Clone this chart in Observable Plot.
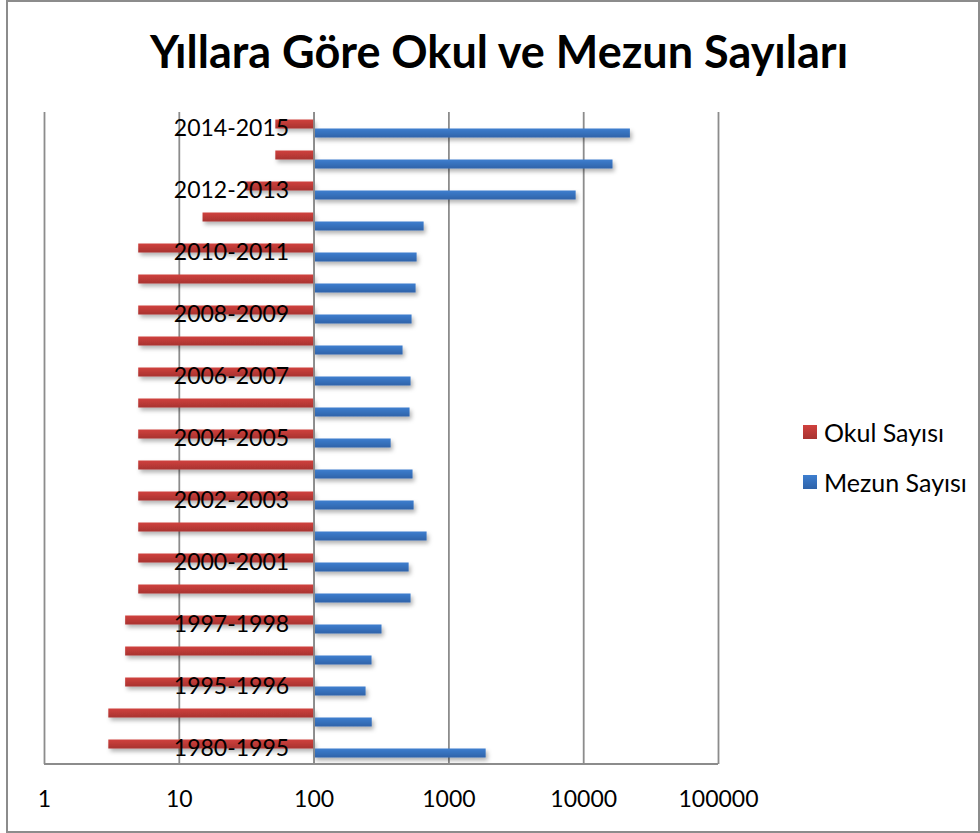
<!DOCTYPE html>
<html>
<head>
<meta charset="utf-8">
<script src="https://cdn.jsdelivr.net/npm/d3@7"></script>
<script src="https://cdn.jsdelivr.net/npm/@observablehq/plot@0.6"></script>
<style>
  html, body { margin: 0; padding: 0; background: #fff; }
  #wrap { position: relative; width: 980px; height: 833px; overflow: hidden; font-family: Lato, "Open Sans", sans-serif; }
  #border { position: absolute; left: 6px; top: 0; width: 974px; height: 833px; box-sizing: border-box; border: 2px solid #8c8c8c; pointer-events: none; }
  #title { position: absolute; left: 9px; top: 0; width: 980px; height: 100px; text-align: center; font-weight: 700; font-size: 45px; line-height: 45px; padding-top: 29px; box-sizing: border-box; color: #000; }
  #chart { position: absolute; left: 0; top: 100px; }
  #legend { position: absolute; left: 803px; top: 419px; font-size: 25px; color: #000; }
  .item { display: flex; align-items: center; height: 26px; margin-bottom: 24px; }
  .sw { width: 14px; height: 14px; margin-right: 7px; }
</style>
</head>
<body>
<div id="wrap">
  <div id="title">Yıllara Göre Okul ve Mezun Sayıları</div>
  <div id="chart"></div>
  <div id="legend"></div>
  <div id="border"></div>
</div>
<script>
// Categories, bottom to top
const categories = ["1980-1995","1994-1995","1995-1996","1996-1997","1997-1998","1998-1999","2000-2001","2001-2002","2002-2003","2003-2004","2004-2005","2005-2006","2006-2007","2007-2008","2008-2009","2009-2010","2010-2011","2011-2012","2012-2013","2013-2014","2014-2015"];
const okulSayisi = [3,3,4,4,4,5,5,5,5,5,5,5,5,5,5,5,5,15,31,52,52];
const mezunSayisi = [1890,270,243,269,319,524,507,689,552,542,373,515,524,457,533,571,581,655,8790,16500,22200];
const categoryTickLabels = ["1980-1995","1995-1996","1997-1998","2000-2001","2002-2003","2004-2005","2006-2007","2008-2009","2010-2011","2012-2013","2014-2015"];
const xTicks = [1,10,100,1000,10000,100000];
const seriesNames = ["Okul Sayısı","Mezun Sayısı"];

const data = categories.map((c,i) => ({cat: c, okul: okulSayisi[i], mezun: mezunSayisi[i]}));

const defsMark = () => {
  const g = d3.create("svg:g");
  const defs = g.append("defs");
  const mk = (id, top, bot) => {
    const lg = defs.append("linearGradient").attr("id", id).attr("x1",0).attr("y1",0).attr("x2",0).attr("y2",1);
    lg.append("stop").attr("offset","0%").attr("stop-color", top);
    lg.append("stop").attr("offset","100%").attr("stop-color", bot);
  };
  mk("gRed", "#D0413E", "#A83330");
  mk("gBlue", "#3E7ECF", "#2F63A9");
  const f = defs.append("filter").attr("id","shadow").attr("x","-10%").attr("y","-50%").attr("width","130%").attr("height","250%");
  f.append("feDropShadow").attr("dx",2).attr("dy",3).attr("stdDeviation",2).attr("flood-color","#000").attr("flood-opacity",0.3);
  return g.node();
};

const bottomLine = (index, scales, values, dims) => {
  const g = d3.create("svg:g");
  g.append("line")
    .attr("x1", dims.marginLeft).attr("x2", dims.width - dims.marginRight)
    .attr("y1", dims.height - dims.marginBottom).attr("y2", dims.height - dims.marginBottom)
    .attr("stroke", "#8c8c8c").attr("stroke-width", 2);
  return g.node();
};

const chart = Plot.plot({
  width: 980,
  height: 733,
  marginLeft: 44,
  marginRight: 262,
  marginTop: 12,
  marginBottom: 69,
  style: {fontFamily: "Lato, 'Open Sans', sans-serif", background: "transparent", color: "#000"},
  x: {type: "log", domain: [1, 100000]},
  y: {type: "band", domain: categories.slice().reverse(), padding: 0, axis: null},
  marks: [
    defsMark,
    Plot.ruleX(xTicks, {stroke: "#8c8c8c", strokeWidth: 1.8, strokeOpacity: 1}),
    Plot.barX(data, {y: "cat", x1: 100, x2: "okul", fill: "url(#gRed)", insetTop: 6.5, insetBottom: 15.5}),
    Plot.barX(data, {y: "cat", x1: 100, x2: "mezun", fill: "url(#gBlue)", insetTop: 15.5, insetBottom: 6.5}),
    Plot.ruleX([100], {stroke: "#8c8c8c", strokeWidth: 1.8}),
    bottomLine,
    Plot.text(categoryTickLabels, {x: 100, y: d => d, text: d => d, dx: -25, textAnchor: "end", fontSize: 23, fill: "#000"}),
    Plot.axisX({ticks: xTicks, tickSize: 0, tickPadding: 26, tickFormat: d => String(d), fontSize: 23, label: null})
  ]
});
document.getElementById("chart").appendChild(chart);
d3.select(chart).selectAll("g[aria-label=bar]").attr("filter", "url(#shadow)");

// Legend
const legend = d3.select("#legend");
[["gRed", seriesNames[0]], ["gBlue", seriesNames[1]]].forEach(([g, name]) => {
  const it = legend.append("div").attr("class", "item");
  it.append("div").attr("class", "sw").style("background", g === "gRed" ? "linear-gradient(#D0413E,#A83330)" : "linear-gradient(#3E7ECF,#2F63A9)");
  it.append("span").text(name);
});
</script>
</body>
</html>
